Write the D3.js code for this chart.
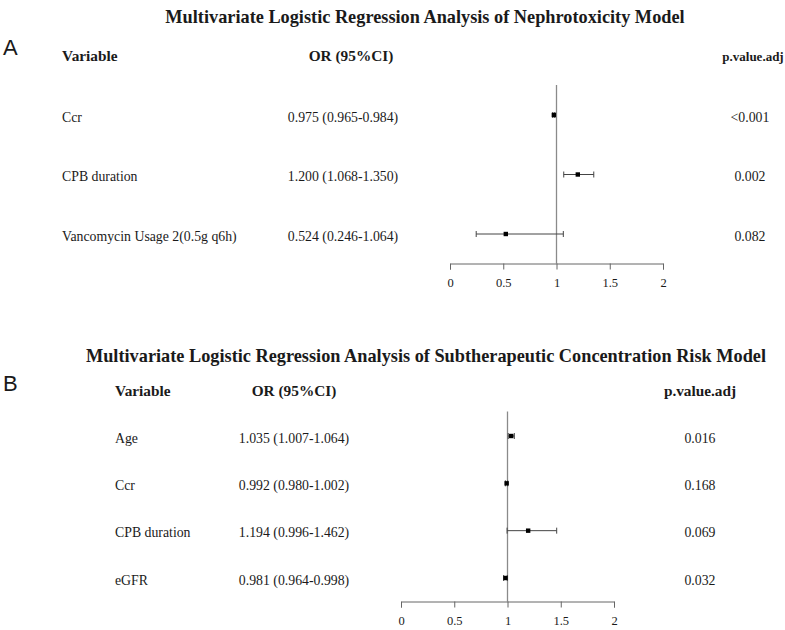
<!DOCTYPE html>
<html>
<head>
<meta charset="utf-8">
<script src="https://cdn.jsdelivr.net/npm/d3@7"></script>
<style>
  body { margin: 0; background: #fff; }
  text { font-family: "Liberation Serif", "Times New Roman", serif; fill: #1a1a1a; }
  .panel-label { font-family: "Liberation Sans", Arial, sans-serif; font-size: 22px; font-weight: 300; }
  .title { font-size: 18.3px; font-weight: bold; }
  .head { font-size: 15.3px; font-weight: bold; }
  .cell { font-size: 13.8px; }
  .axis text { font-family: "Liberation Serif", serif; font-size: 12.5px; fill: #1a1a1a; }
  .axis path, .axis line { stroke: #666; }
</style>
</head>
<body>
<script>
// panel A data
var varsA = ["Ccr", "CPB duration", "Vancomycin Usage 2(0.5g q6h)"];
var orA = [0.975, 1.200, 0.524];
var loA = [0.965, 1.068, 0.246];
var hiA = [0.984, 1.350, 1.064];
var pA = ["<0.001", "0.002", "0.082"];

// panel B data
var varsB = ["Age", "Ccr", "CPB duration", "eGFR"];
var orB = [1.035, 0.992, 1.194, 0.981];
var loB = [1.007, 0.980, 0.996, 0.964];
var hiB = [1.064, 1.002, 1.462, 0.998];
var pB = ["0.016", "0.168", "0.069", "0.032"];

var ticks = [0, 0.5, 1, 1.5, 2];

var svg = d3.select("body").append("svg")
  .attr("width", 785)
  .attr("height", 630);

var fmt = d3.format(".3f");

function drawPanel(cfg) {
  var g = svg.append("g");
  var rows = cfg.vars.map(function(v, i) {
    return { name: v, or: cfg.or[i], lo: cfg.lo[i], hi: cfg.hi[i], p: cfg.p[i] };
  });

  var x = d3.scaleLinear().domain([0, 2]).range(cfg.xRange);
  var y = d3.scalePoint().domain(cfg.vars).range(cfg.yRange);

  g.append("text").attr("class", "panel-label")
    .attr("x", 3).attr("y", cfg.labelY).attr("dy", "0.35em")
    .text(cfg.label);

  g.append("text").attr("class", "title")
    .attr("x", cfg.titleX).attr("y", cfg.titleY).attr("dy", "0.35em")
    .attr("text-anchor", "middle")
    .text(cfg.title);

  // headers
  g.append("text").attr("class", "head")
    .attr("x", cfg.varX).attr("y", cfg.headY).attr("dy", "0.35em")
    .text("Variable");
  g.append("text").attr("class", "head")
    .attr("x", cfg.orHeadX).attr("y", cfg.headY).attr("dy", "0.35em")
    .attr("text-anchor", "middle")
    .text("OR (95%CI)");
  g.append("text").attr("class", "head")
    .attr("x", cfg.pHeadX).attr("y", cfg.headY).attr("dy", "0.35em")
    .attr("text-anchor", "middle")
    .style("font-size", cfg.pHeadSize + "px")
    .text("p.value.adj");

  // text columns
  g.selectAll(".var").data(rows).enter().append("text")
    .attr("class", "cell var")
    .attr("x", cfg.varX).attr("y", function(d) { return y(d.name) + 2; })
    .attr("dy", "0.35em")
    .text(function(d) { return d.name; });
  g.selectAll(".orci").data(rows).enter().append("text")
    .attr("class", "cell orci")
    .attr("x", cfg.orX).attr("y", function(d) { return y(d.name) + 2; })
    .attr("dy", "0.35em").attr("text-anchor", "middle")
    .text(function(d) { return fmt(d.or) + " (" + fmt(d.lo) + "-" + fmt(d.hi) + ")"; });
  g.selectAll(".pv").data(rows).enter().append("text")
    .attr("class", "cell pv")
    .attr("x", cfg.pX).attr("y", function(d) { return y(d.name) + 2; })
    .attr("dy", "0.35em").attr("text-anchor", "middle")
    .text(function(d) { return d.p; });

  // reference line at OR = 1
  g.append("line")
    .attr("x1", x(1)).attr("x2", x(1))
    .attr("y1", cfg.refTop).attr("y2", cfg.axisY)
    .attr("stroke", "#8a8a8a").attr("stroke-width", 1.3);

  // CI whiskers
  var ci = g.selectAll(".ci").data(rows).enter().append("g").attr("class", "ci");
  ci.append("line")
    .attr("x1", function(d) { return x(d.lo); })
    .attr("x2", function(d) { return x(d.hi); })
    .attr("y1", function(d) { return y(d.name); })
    .attr("y2", function(d) { return y(d.name); })
    .attr("stroke", "#444").attr("stroke-width", 1);
  ci.append("line")
    .attr("x1", function(d) { return x(d.lo); })
    .attr("x2", function(d) { return x(d.lo); })
    .attr("y1", function(d) { return y(d.name) - 3; })
    .attr("y2", function(d) { return y(d.name) + 3; })
    .attr("stroke", "#444").attr("stroke-width", 1);
  ci.append("line")
    .attr("x1", function(d) { return x(d.hi); })
    .attr("x2", function(d) { return x(d.hi); })
    .attr("y1", function(d) { return y(d.name) - 3; })
    .attr("y2", function(d) { return y(d.name) + 3; })
    .attr("stroke", "#444").attr("stroke-width", 1);
  ci.append("rect")
    .attr("x", function(d) { return x(d.or) - 2.2; })
    .attr("y", function(d) { return y(d.name) - 2.2; })
    .attr("width", 4.4).attr("height", 4.4)
    .attr("fill", "#000");

  // axis
  var axis = d3.axisBottom(x)
    .tickValues(ticks)
    .tickSize(6)
    .tickSizeOuter(6)
    .tickPadding(9)
    .tickFormat(d3.format(""));
  g.append("g").attr("class", "axis")
    .attr("transform", "translate(0," + cfg.axisY + ")")
    .call(axis);
}

drawPanel({
  label: "A", labelY: 47,
  title: "Multivariate Logistic Regression Analysis of Nephrotoxicity Model",
  titleX: 425, titleY: 17,
  vars: varsA, or: orA, lo: loA, hi: hiA, p: pA,
  xRange: [450, 663], yRange: [115, 234],
  varX: 62, orHeadX: 351, orX: 343, pX: 750, pHeadX: 753, pHeadSize: 13, headY: 56,
  refTop: 85, axisY: 263.5
});

drawPanel({
  label: "B", labelY: 383,
  title: "Multivariate Logistic Regression Analysis of Subtherapeutic Concentration Risk Model",
  titleX: 426, titleY: 356,
  vars: varsB, or: orB, lo: loB, hi: hiB, p: pB,
  xRange: [401, 614], yRange: [436, 578],
  varX: 115, orHeadX: 294, orX: 294, pX: 700, pHeadX: 700, pHeadSize: 15.3, headY: 391,
  refTop: 411.5, axisY: 601.5
});
</script>
</body>
</html>
